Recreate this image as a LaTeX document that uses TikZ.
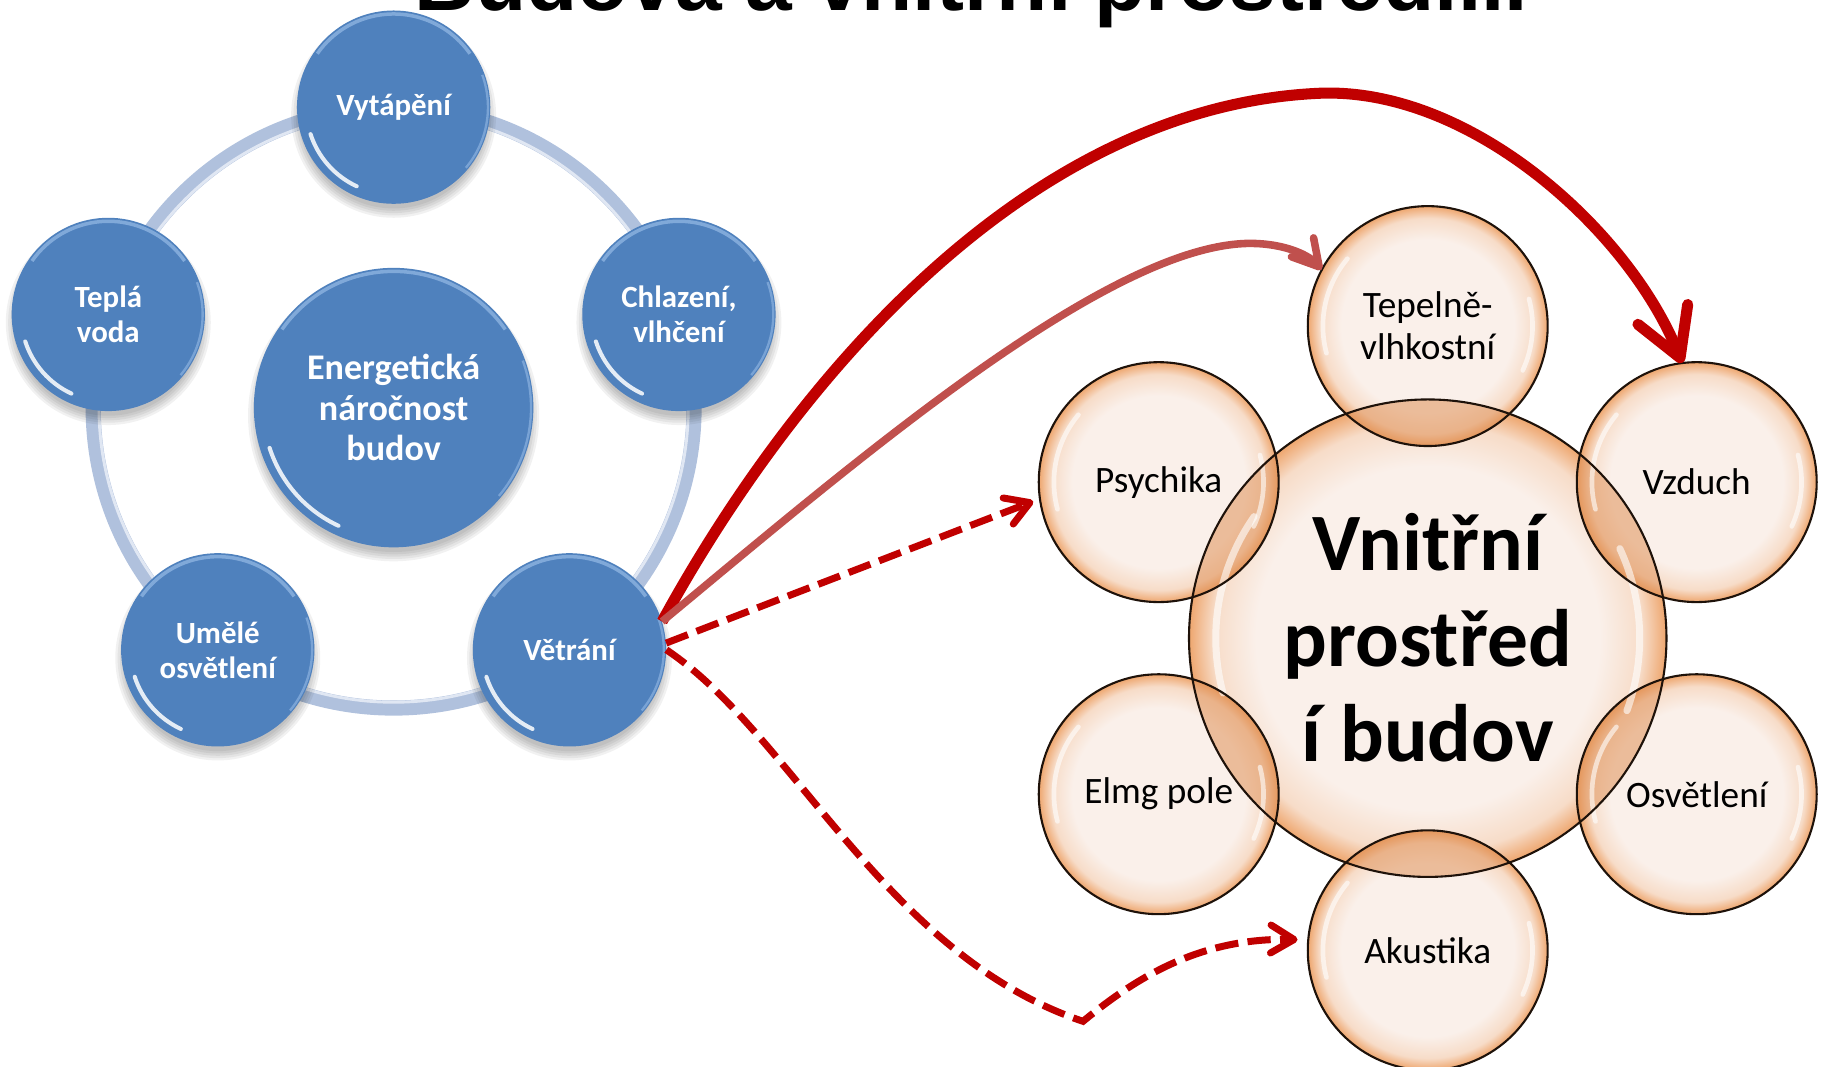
\documentclass[tikz,border=0pt]{standalone}
\usepackage{fontspec}
\setmainfont{Carlito}
\newfontfamily\headfont{Liberation Sans}
\usetikzlibrary{arrows.meta}

\definecolor{ringc}{RGB}{176,193,221}
\definecolor{ringhi}{RGB}{224,231,243}
\definecolor{bluec}{RGB}{79,129,189}
\definecolor{bluehi}{RGB}{150,186,230}
\definecolor{bubin}{RGB}{250,240,234}
\definecolor{bubmid}{RGB}{247,220,200}
\definecolor{bubout}{RGB}{238,166,110}
\definecolor{lensc}{RGB}{222,138,76}
\definecolor{rimc}{RGB}{30,18,10}
\definecolor{darkred}{RGB}{192,0,0}
\definecolor{softred}{RGB}{192,80,77}

% 25bp is the rim of the shaded disc
\pgfdeclareradialshading{bubble}{\pgfpoint{0bp}{0bp}}{color(0bp)=(bubin); color(18bp)=(bubin); color(22.5bp)=(bubmid); color(25bp)=(bubout); color(50bp)=(bubout)}

\pgfdeclarelayer{back}
\pgfsetlayers{back,main}

\tikzset{
  bluenode/.style={circle, fill=bluec, minimum size=166pt, inner sep=0pt, text=white,
    font=\fontsize{26.5}{30}\selectfont\bfseries, align=center},
  bigblue/.style={bluenode, minimum size=240pt, font=\fontsize{31}{35}\selectfont\bfseries},
  bubblenode/.style={circle, minimum size=206pt, inner sep=0pt, shade, shading=bubble},
  bigbubble/.style={bubblenode, minimum size=410pt},
  bubtext/.style={font=\fontsize{32}{36}\selectfont, align=center, text=black, inner sep=0pt},
  bigtext/.style={font=\fontsize{70}{82}\selectfont\bfseries, align=center, text=black, inner sep=0pt},
  rim/.style={draw=rimc, line width=1.8pt},
  gloss/.style={white, line width=4pt, line cap=round, opacity=.6},
  bigarrow/.style={draw=darkred, line width=9.5pt, -{Straight Barb[length=40pt,width=46pt,round]}},
  thinarrow/.style={draw=softred, line width=6.5pt, -{Straight Barb[length=22pt,width=25pt,round]}},
  dasharrow/.style={draw=darkred, line width=6pt, dash pattern=on 20pt off 8pt,
    -{Straight Barb[length=20pt,width=24pt,round]}}
}

\begin{document}
\begin{tikzpicture}[x=1pt,y=-1pt]
\useasboundingbox (0,0) rectangle (1568,916);
\clip (0,0) rectangle (1568,916);

% heading, cut by the top edge
\node[font=\headfont\bfseries\fontsize{72}{80}\selectfont, anchor=base, inner sep=0pt]
  (title) at (834,9) {Budova a vnitřní prostředí...};

% ---- energy cycle ----
\node[bigblue]  (ener) at (338,350) {Energetická\\náročnost\\budov};
\node[bluenode] (vyt)  at (338,92)  {Vytápění};
\node[bluenode] (tpv)  at (93,270)  {Teplá\\voda};
\node[bluenode] (chl)  at (583,270) {Chlazení,\\vlhčení};
\node[bluenode] (ume)  at (187,558) {Umělé\\osvětlení};
\node[bluenode] (vet)  at (489,558) {Větrání};

\begin{pgfonlayer}{back}
  \draw[ringc, line width=13pt] (ener.center) circle[radius=258pt];
  \draw[ringhi, line width=2.5pt] (ener.center) circle[radius=253pt];
  \foreach \n/\r in {ener/120,vyt/83,tpv/83,chl/83,ume/83,vet/83}{
    \foreach \d in {5,3,1,-1,-3}{
      \fill[black, opacity=.055] ([yshift=-7pt]\n.center) circle[radius=\r pt+\d pt];
    }
  }
\end{pgfonlayer}

% glossy rims of the blue discs
\foreach \n/\r in {ener/120,vyt/83,tpv/83,chl/83,ume/83,vet/83}{
  \draw[bluehi, line width=3pt, opacity=.7]
    ([shift={(35:\r pt-3pt)}]\n.center) arc[start angle=35, end angle=145, radius=\r pt-3pt];
  \draw[white, line width=3.5pt, line cap=round, opacity=.85]
    ([shift={(198:\r pt-8pt)}]\n.center) arc[start angle=198, end angle=245, radius=\r pt-8pt];
  \draw[bluehi, line width=2pt, opacity=.6]
    ([shift={(-40:\r pt-2pt)}]\n.center) arc[start angle=-40, end angle=20, radius=\r pt-2pt];
}

% ---- indoor environment ----
\node[bigbubble]  (ctr) at (1226,548) {};
\node[bubblenode] (tep) at (1226,280) {};
\node[bubblenode] (psy) at (995,414)  {};
\node[bubblenode] (vzd) at (1457,414) {};
\node[bubblenode] (elm) at (995,682)  {};
\node[bubblenode] (osv) at (1457,682) {};
\node[bubblenode] (aku) at (1226,816) {};

% overlaps with the central disc
\begin{scope}
  \clip (ctr.center) circle[radius=205pt];
  \foreach \n in {tep,psy,vzd,elm,osv,aku}{
    \fill[lensc, opacity=.5] (\n.center) circle[radius=103pt];
  }
\end{scope}

% highlights and outlines
\draw[gloss, line width=6pt] ([shift={(145:182pt)}]ctr.center) arc[start angle=145, end angle=195, radius=182pt];
\draw[gloss, line width=6pt] ([shift={(-20:182pt)}]ctr.center) arc[start angle=-20, end angle=25, radius=182pt];
\foreach \n in {tep,psy,vzd,elm,osv,aku}{
  \draw[gloss] ([shift={(140:90pt)}]\n.center) arc[start angle=140, end angle=195, radius=90pt];
  \draw[gloss] ([shift={(-25:90pt)}]\n.center) arc[start angle=-25, end angle=15, radius=90pt];
}
\draw[rim] (ctr.center) circle[radius=205pt];
\foreach \n in {tep,psy,vzd,elm,osv,aku}{
  \draw[rim] (\n.center) circle[radius=103pt];
}

% labels
\node[bigtext] (ctrt) at (ctr.center) {Vnitřní\\prostřed\\í budov};
\node[bubtext] (tept) at (tep.center) {Tepelně-\\vlhkostní};
\node[bubtext] (psyt) at (psy.center) {Psychika};
\node[bubtext] (vzdt) at (vzd.center) {Vzduch};
\node[bubtext] (elmt) at (elm.center) {Elmg pole};
\node[bubtext] (osvt) at (osv.center) {Osvětlení};
\node[bubtext] (akut) at (aku.center) {Akustika};

% ---- links from ventilation ----
\draw[bigarrow] (vet.17) .. controls (680,330) and (880,90) .. (1135,80)
  .. controls (1265,76) and (1400,200) .. (vzd.97);
\draw[thinarrow] (vet.17) .. controls (730,400) and (950,210) .. (1073,209)
  .. controls (1105,209) and (1125,220) .. (tep.152);
\draw[dasharrow, shorten >=6pt] (vet.4) -- (psy.188);
\draw[dasharrow, shorten >=9pt] (vet.0) .. controls (680,630) and (760,820) .. (930,877)
  .. controls (975,840) and (1030,805) .. (aku.175);
\end{tikzpicture}
\end{document}
